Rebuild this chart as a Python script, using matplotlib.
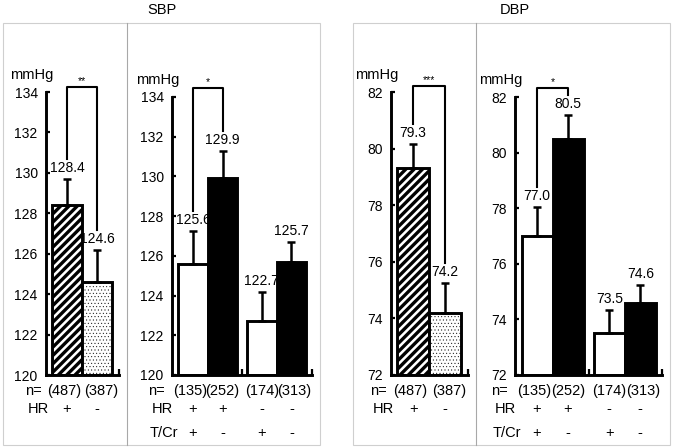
import numpy as np
import matplotlib
matplotlib.use('Agg')
import matplotlib.pyplot as plt
from matplotlib.patches import Rectangle

plt.rcParams['font.family'] = ['Liberation Sans', 'DejaVu Sans']
plt.rcParams['font.size'] = 10

# ---- data ----
sbp_hr_means = [128.4, 124.6]
sbp_hr_err = [1.3, 1.6]
sbp_grp_means = [125.6, 129.9, 122.7, 125.7]
sbp_grp_err = [1.65, 1.4, 1.5, 1.0]

dbp_hr_means = [79.3, 74.2]
dbp_hr_err = [0.85, 1.05]
dbp_grp_means = [77.0, 80.5, 73.5, 74.6]
dbp_grp_err = [1.05, 0.85, 0.85, 0.65]

hr_n = [487, 387]
grp_n = [135, 252, 174, 313]
hr_signs = ['+', '-']
grp_hr_signs = ['+', '+', '-', '-']
grp_tcr_signs = ['+', '-', '+', '-']

sbp_ticks = [120, 122, 124, 126, 128, 130, 132, 134]
dbp_ticks = [72, 74, 76, 78, 80, 82]
sig_labels = ['**', '*', '***', '*']

W, H = 685, 447
LW = 2.1
fig = plt.figure(figsize=(W / 100, H / 100), dpi=100)


def px_axes(x0, x1, ytop, ybot):
    return fig.add_axes([x0 / W, (H - ybot) / H, (x1 - x0) / W, (ybot - ytop) / H])


def fig_box(x0, x1, ytop, ybot, color):
    fig.add_artist(Rectangle((x0 / W, (H - ybot) / H), (x1 - x0) / W, (ybot - ytop) / H,
                             transform=fig.transFigure, fill=False, edgecolor=color, lw=0.8))


def style_axis(ax, ticks, xlim, xticks):
    ax.set_ylim(ticks[0], ticks[-1])
    ax.set_xlim(*xlim)
    ax.set_yticks(ticks)
    ax.set_xticks(xticks)
    ax.set_xticklabels([])
    for s in ['top', 'right']:
        ax.spines[s].set_visible(False)
    for s in ['left', 'bottom']:
        ax.spines[s].set_linewidth(LW)
        ax.spines[s].set_capstyle('projecting')
    ax.tick_params(axis='y', direction='in', length=3, width=1.6, pad=6, labelsize=10)
    ax.tick_params(axis='x', direction='in', length=4, width=1.6)
    ax.patch.set_visible(False)
    ax.annotate('mmHg', xy=(0, 1), xycoords='axes fraction', xytext=(-14, 17),
                textcoords='offset pixels', ha='center', va='center', fontsize=10.5)


def px_per_unit(ax):
    h = ax.get_position().height * H
    lo, hi = ax.get_ylim()
    return h / (hi - lo)


def draw_bars(ax, x, means, errs, styles):
    base = ax.get_ylim()[0]
    for xi, m, st in zip(x, means, styles):
        b = ax.bar(xi, m - base, bottom=base, width=1.0, facecolor=st[0],
                   edgecolor='black', linewidth=LW, hatch=st[1], zorder=2)
        if st[1]:
            for p in b:
                if hasattr(p, 'set_hatch_linewidth'):
                    p.set_hatch_linewidth(st[2])
    ax.errorbar(x, means, yerr=[np.zeros(len(errs)), errs], fmt='none', ecolor='black',
                elinewidth=1.8, capsize=3, capthick=1.8, zorder=3)
    ppu = px_per_unit(ax)
    for xi, m, e in zip(x, means, errs):
        ax.text(xi, m + e + 4 / ppu, f'{m:.1f}', ha='center', va='bottom', fontsize=10, zorder=4)


def bracket(ax, x0, x1, y0, y1, top_px, label):
    ppu = px_per_unit(ax)
    top = ax.get_ylim()[1] + top_px / ppu
    gap = 20 / ppu
    ax.plot([x0, x0, x1, x1], [y0 + gap, top, top, y1 + gap], color='black', lw=1.5,
            clip_on=False, zorder=4)
    ax.text((x0 + x1) / 2, top + 1 / ppu, label, ha='center', va='bottom', fontsize=7.5)


def bottom_rows(ax, x, rows, head_dx, n_dx):
    ys = [16, 34, 58]
    ax_w = ax.get_position().width * W
    ax_h = ax.get_position().height * H
    span = ax.get_xlim()[1] - ax.get_xlim()[0]
    tr = ax.get_xaxis_transform()
    for i, ((head, vals), yoff) in enumerate(zip(rows, ys)):
        yy = -yoff / ax_h
        ax.text(head_dx[i] / ax_w, yy, head, transform=ax.transAxes, ha='center',
                va='center', fontsize=10.5)
        for j, (xi, v) in enumerate(zip(x, vals)):
            dx = n_dx[j] * span / ax_w if i == 0 else 0
            ax.text(xi + dx, yy, v, transform=tr, ha='center', va='center', fontsize=10.5)


hr_styles = [('white', '////', 2.4), ('white', '.....', 0.3)]
grp_styles = [('white', '', 0), ('black', '', 0), ('white', '', 0), ('black', '', 0)]
x_hr = np.array([0, 1])
x_grp = np.array([0, 1, 2.33, 3.33])

# boxes and titles
fig_box(3, 320, 23, 445, '#cfcfcf')
fig_box(353, 670, 23, 445, '#cfcfcf')
fig.add_artist(plt.Line2D([126.5 / W] * 2, [(H - 23) / H, (H - 445) / H], color='#a8a8a8', lw=0.8))
fig.add_artist(plt.Line2D([476 / W] * 2, [(H - 23) / H, (H - 445) / H], color='#a8a8a8', lw=0.8))
fig.text(162 / W, 1 - 10 / H, 'SBP', ha='center', va='center', fontsize=10.5)
fig.text(515 / W, 1 - 10 / H, 'DBP', ha='center', va='center', fontsize=10.5)

panels = [
    (px_axes(46, 119, 92, 375), sbp_ticks, sbp_hr_means, sbp_hr_err, 'hr', 5),
    (px_axes(172, 312, 97, 375), sbp_ticks, sbp_grp_means, sbp_grp_err, 'grp', 9),
    (px_axes(391, 468, 92, 375), dbp_ticks, dbp_hr_means, dbp_hr_err, 'hr', 6),
    (px_axes(515, 662, 97, 375), dbp_ticks, dbp_grp_means, dbp_grp_err, 'grp', 9),
]

for (ax, ticks, means, errs, kind, top_px), sig in zip(panels, sig_labels):
    if kind == 'hr':
        style_axis(ax, ticks, (-0.7, 1.733), [1.733])
        draw_bars(ax, x_hr, means, errs, hr_styles)
        bottom_rows(ax, x_hr, [('n=', [f'({n})' for n in hr_n]), ('HR', hr_signs)],
                    [-13, -8], [-3, 4])
        x = x_hr
    else:
        style_axis(ax, ticks, (-0.71, 4.03), [1.66, 4.03])
        draw_bars(ax, x_grp, means, errs, grp_styles)
        bottom_rows(ax, x_grp, [('n=', [f'({n})' for n in grp_n]), ('HR', grp_hr_signs),
                                ('T/Cr', grp_tcr_signs)], [-16, -10, -8], [-3, 0, 0, 3])
        x = x_grp
    bracket(ax, x[0], x[1], means[0] + errs[0], means[1] + errs[1], top_px, sig)

fig.savefig('out.png', dpi=100)
